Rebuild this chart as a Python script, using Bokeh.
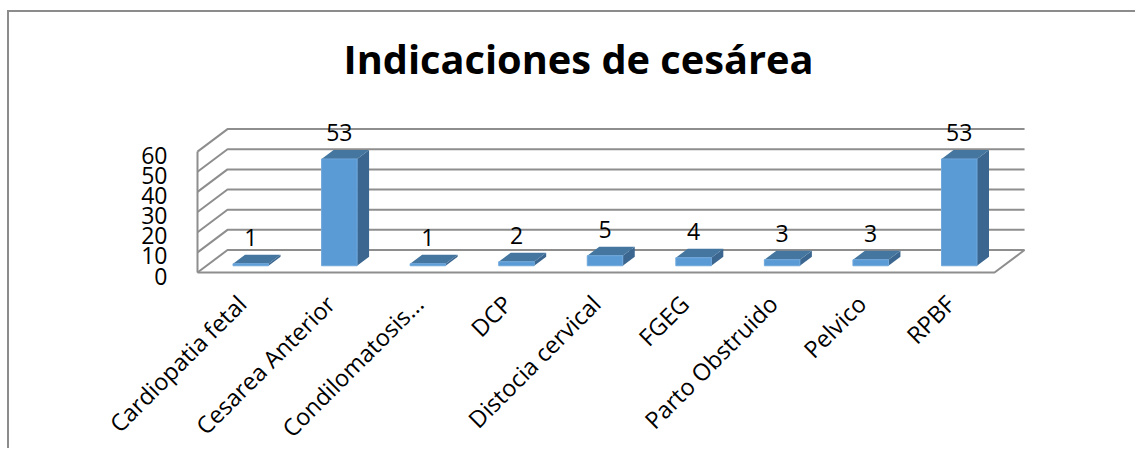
from bokeh.plotting import figure
from bokeh.models import FixedTicker, Title, Range1d
from bokeh.core.properties import value
from bokeh.embed import file_html
from bokeh.resources import INLINE

categories = ["Cardiopatia fetal", "Cesarea Anterior", "Condilomatosis...", "DCP",
              "Distocia cervical", "FGEG", "Parto Obstruido", "Pelvico", "RPBF"]
counts = [1, 53, 1, 2, 5, 4, 3, 3, 53]
y_ticks = [0, 10, 20, 30, 40, 50, 60]

FONT = "Open Sans"
GRID = "#8e8e8e"
W, H = 1135, 448      # figure size
TOP = 90              # title band above the frame
ORIGIN_X, ORIGIN_Y = 197, 272   # pixel position of the chart's front-left floor corner
X_PX = 88.56          # pixels per category
Y_PX = 2.015          # pixels per unit of value
DX = 30 / X_PX        # depth of the 3D box, in data units
DY = 22.5 / Y_PX
BAR_W = 35.5 / X_PX
y_start = -(H - ORIGIN_Y) / Y_PX
y_end = (ORIGIN_Y - TOP) / Y_PX

p = figure(width=W, height=H,
           x_range=(-ORIGIN_X / X_PX, (W - ORIGIN_X) / X_PX), y_range=(y_start, y_end),
           output_backend="svg", toolbar_location=None,
           min_border_left=0, min_border_right=0, min_border_top=TOP, min_border_bottom=0,
           background_fill_color=None, border_fill_color=None)
p.outline_line_color = None
p.grid.visible = False
p.styles = {"background": "linear-gradient(#8c8c8c,#8c8c8c) 7px 10px / 2px 100% no-repeat, "
                          "linear-gradient(#8c8c8c,#8c8c8c) 7px 10px / 100% 2px no-repeat, white"}

# title
p.add_layout(Title(text="Indicaciones de cesárea", align="left", offset=343, standoff=10,
                   text_font=FONT, text_font_size="39.75px", text_font_style="bold",
                   text_color="black"), "above")

# walls and floor
n = len(categories)
for v in y_ticks:
    p.line([0, DX, n + DX], [v, v + DY, v + DY], line_color=GRID, line_width=2)
p.line([0, 0], [0, y_ticks[-1]], line_color=GRID, line_width=2)
p.line([0, n, n + DX], [0, 0, DY], line_color=GRID, line_width=2)

# bars
front_x, front_y, side_x, side_y, top_x, top_y = [], [], [], [], [], []
for i, c in enumerate(counts):
    x0 = i + 0.5 - BAR_W / 2 + 0.3 * DX
    x1 = x0 + BAR_W
    y0 = 0.3 * DY
    y1 = y0 + c
    ox, oy = 0.4 * DX, 0.4 * DY
    front_x.append([x0, x1, x1, x0]); front_y.append([y0, y0, y1, y1])
    side_x.append([x1, x1 + ox, x1 + ox, x1]); side_y.append([y0, y0 + oy, y1 + oy, y1])
    top_x.append([x0, x1, x1 + ox, x0 + ox]); top_y.append([y1, y1, y1 + oy, y1 + oy])
p.patches(side_x, side_y, fill_color="#3B6690", line_color=None)
p.patches(top_x, top_y, fill_color="#44769F", line_color=None)
p.patches(front_x, front_y, fill_color="#5B9BD5", line_color="#6FA8DC", line_width=1)

# value labels
p.text([i + 0.5 + 0.3 * DX for i in range(n)], [c + 0.3 * DY for c in counts],
       text=[str(c) for c in counts], text_font=value(FONT), text_font_size="23px",
       text_color="black", text_align="center", text_baseline="middle", y_offset=-26)

# axes: pinned to the floor corner, so they need no panels of their own
LABEL_DROP = 3.5 / Y_PX     # tick labels sit a little below their gridlines
p.extra_y_ranges = {"labels": Range1d(y_start + LABEL_DROP, y_end + LABEL_DROP)}
p.yaxis.y_range_name = "labels"
p.yaxis.fixed_location = 0
p.yaxis.ticker = FixedTicker(ticks=y_ticks)
p.yaxis.axis_line_color = None
p.yaxis.major_tick_line_color = None
p.yaxis.minor_tick_line_color = None
p.yaxis.major_label_standoff = 24
p.yaxis.major_label_text_font = FONT
p.yaxis.major_label_text_font_size = "23px"
p.yaxis.major_label_text_color = "black"

p.xaxis.fixed_location = 0
p.xaxis.ticker = FixedTicker(ticks=[i + 0.5 for i in range(n)])
p.xaxis.major_label_overrides = {i + 0.5: c for i, c in enumerate(categories)}
p.xaxis.major_label_orientation = 0.785398
p.xaxis.axis_line_color = None
p.xaxis.major_tick_line_color = None
p.xaxis.minor_tick_line_color = None
p.xaxis.major_label_standoff = 21
p.xaxis.major_label_text_font = FONT
p.xaxis.major_label_text_font_size = "23.5px"
p.xaxis.major_label_text_color = "black"

open("out.html", "w").write(file_html(p, INLINE))
